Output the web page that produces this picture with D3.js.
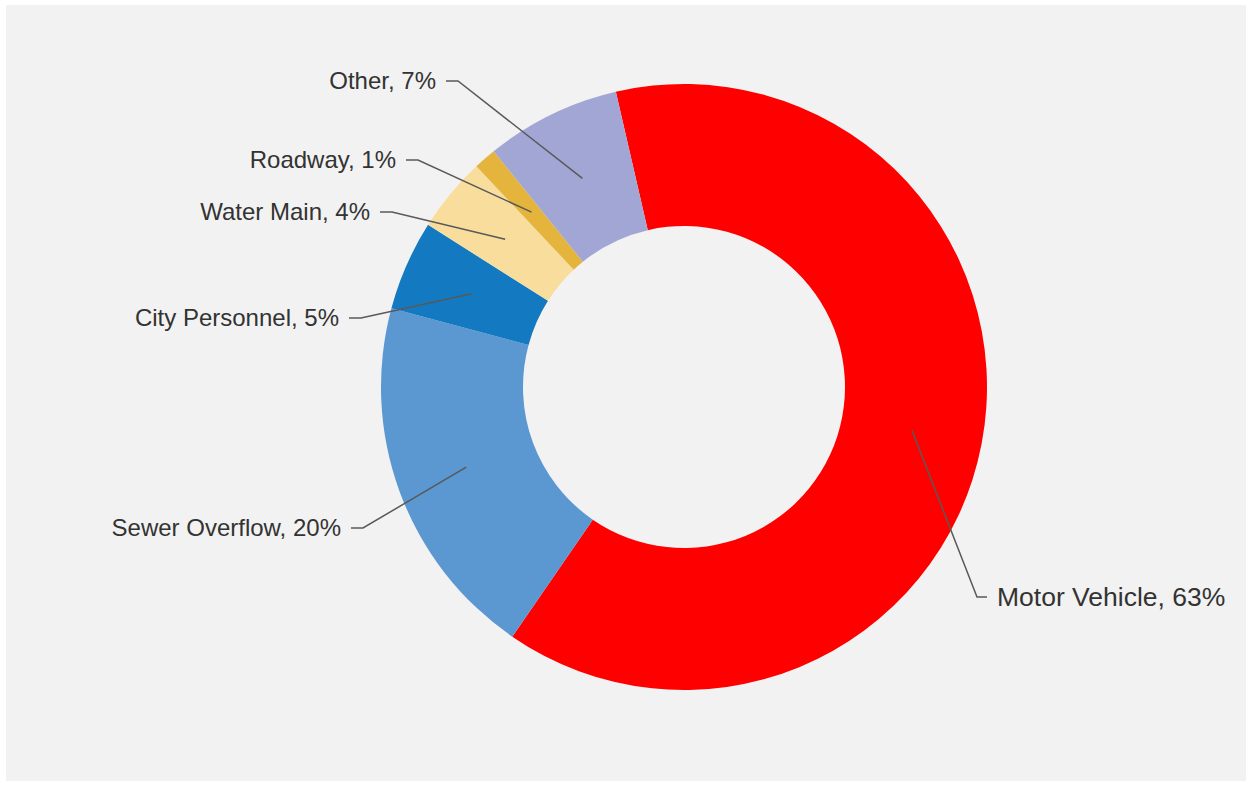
<!DOCTYPE html>
<html>
<head>
<meta charset="utf-8">
<script src="https://cdn.jsdelivr.net/npm/d3@7"></script>
<style>
  html, body { margin: 0; padding: 0; background: #fff; }
  svg { display: block; }
</style>
</head>
<body>
<div id="chart"></div>
<script>
// Donut: incidents by cause
const categories = ['Motor Vehicle', 'Sewer Overflow', 'City Personnel', 'Water Main', 'Roadway', 'Other'];
const shares = [63.2, 19.6, 4.8, 4.0, 1.2, 7.2];
const colors = ['#ff0000', '#5b97d1', '#137ac1', '#f8dd9c', '#e4b43c', '#a2a6d4'];

// label elbow offsets from the centre (layout only)
const labelElbows = [[293, 210], [-321, 141], [-323, -69], [-292, -175], [-266, -227], [-226, -306]];
const labelSizes = [26.5, 24, 24, 24, 24, 24];

(function() {
  'use strict';

  const W = 1252, H = 786;
  const cx = 684, cy = 387;
  const outerR = 303, innerR = 161;
  const firstAngle = -13 * Math.PI / 180;

  const svg = d3.select('#chart').append('svg')
    .attr('width', W)
    .attr('height', H);

  // panel background
  svg.append('rect')
    .attr('x', 6).attr('y', 5)
    .attr('width', 1240).attr('height', 776)
    .attr('fill', '#f2f2f2');

  const data = categories.map((c, i) => ({ name: c, value: shares[i], color: colors[i], elbow: labelElbows[i], size: labelSizes[i] }));

  const pie = d3.pie()
    .value(d => d.value)
    .sort(null)
    .startAngle(firstAngle)
    .endAngle(firstAngle + 2 * Math.PI);

  const arc = d3.arc().innerRadius(innerR).outerRadius(outerR);

  const g = svg.append('g').attr('transform', `translate(${cx},${cy})`);

  const arcs = pie(data);

  g.selectAll('path.slice')
    .data(arcs)
    .enter()
    .append('path')
    .attr('class', 'slice')
    .attr('d', arc)
    .attr('fill', d => d.data.color);

  // leader lines + labels
  arcs.forEach(a => {
    const [px, py] = arc.centroid(a);
    const [ex, ey] = a.data.elbow;
    const right = ex > 0;
    const hx = right ? ex + 10 : ex - 12;

    g.append('polyline')
      .attr('points', `${px},${py} ${ex},${ey} ${hx},${ey}`)
      .attr('fill', 'none')
      .attr('stroke', '#595959')
      .attr('stroke-width', 1.5);

    g.append('text')
      .attr('x', right ? hx + 10 : hx - 10)
      .attr('y', ey)
      .attr('dy', '0.35em')
      .attr('text-anchor', right ? 'start' : 'end')
      .attr('font-family', 'Arial, "Liberation Sans", sans-serif')
      .attr('font-size', a.data.size + 'px')
      .attr('fill', '#333')
      .text(`${a.data.name}, ${Math.round(a.data.value)}%`);
  });
})();
</script>
</body>
</html>
